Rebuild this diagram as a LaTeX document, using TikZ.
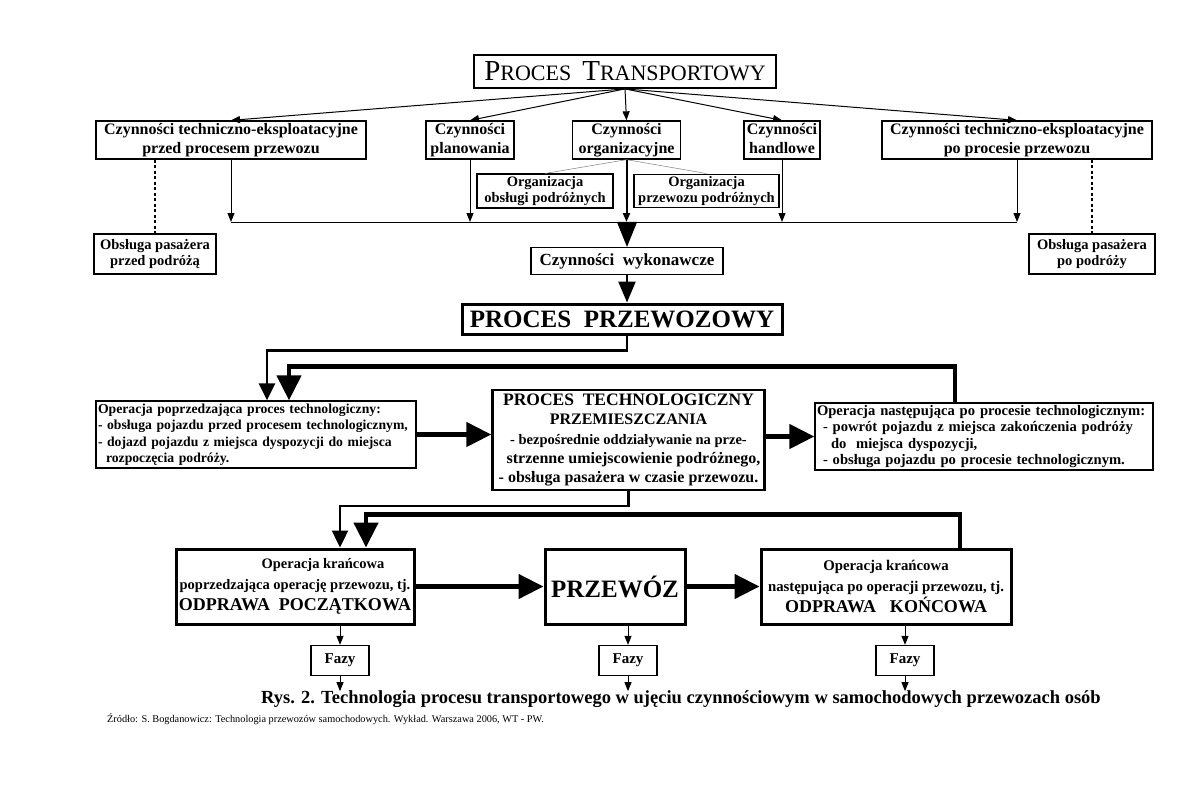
\documentclass[tikz,border=0pt]{standalone}
\usepackage{fontspec}
\setmainfont{Liberation Serif}
\usetikzlibrary{arrows.meta}
\newcommand{\setfs}[2]{\fontsize{#1}{#2}\selectfont}
\tikzset{
    rys diagram/.style = {x=1pt, y=-1pt, >={Triangle[length=9pt,width=7pt]}},
    line/.style        = {line width=1pt},
    midline/.style     = {line width=2.4pt},
    heavyline/.style   = {line width=4.6pt},
    midtip/.style      = {-{Triangle[length=17pt,width=16pt]}},
    bigtip/.style      = {-{Triangle[length=25pt,width=24pt]}},
    dotline/.style     = {line width=1.2pt, dash pattern=on 3pt off 2.5pt},
    subline/.style     = {line width=0.5pt, black!50},
    block/.style       = {draw, line width=1.3pt, fill=white, align=center,
                          inner sep=2pt, font=\setfs{16}{19}\bfseries},
    heavyblock/.style  = {block, line width=3pt},
    smallblock/.style  = {block, font=\setfs{14.5}{16.5}\bfseries},
    listblock/.style   = {block, align=left, inner xsep=2pt,
                          font=\setfs{13.7}{16.5}\bfseries},
    fazablock/.style   = {block, font=\setfs{15}{17}\bfseries,
                          minimum width=58pt, minimum height=30pt}
}

\begin{document}
\begin{tikzpicture}[rys diagram]
\useasboundingbox (0,0) rectangle (1194,790);

% proces transportowy i czynnosci
\node[block,line width=1.8pt,font=\setfs{22}{26},minimum width=302pt,minimum height=33pt] (transport) at (625,71.5)
    {{\setfs{29}{26}P}ROCES\ \ {\setfs{29}{26}T}RANSPORTOWY};
\node[block,minimum width=270pt,minimum height=38pt] (techA) at (231,140)
    {Czynności techniczno-eksploatacyjne\\przed procesem przewozu};
\node[block,minimum width=88pt,minimum height=38pt] (plan) at (470,140) {Czynności\\planowania};
\node[block,minimum width=108pt,minimum height=38pt] (org) at (626.5,140) {Czynności\\organizacyjne};
\node[block,minimum width=76pt,minimum height=38pt] (handel) at (782,140) {Czynności\\handlowe\vphantom{y}};
\node[block,minimum width=270pt,minimum height=38pt] (techB) at (1017,140)
    {Czynności techniczno-eksploatacyjne\\po procesie przewozu};
\foreach \target in {techA,plan,org,handel,techB}
    \draw[->,line] (transport.south) -- (\target.north);

\node[smallblock,minimum width=136pt,minimum height=33pt] (orgA) at (545,191) {Organizacja\\obsługi podróżnych};
\node[smallblock,minimum width=145pt,minimum height=33pt] (orgB) at (706.5,191) {Organizacja\\przewozu podróżnych};
\draw[subline] (org.south) -- (orgA.north);
\draw[subline] (org.south) -- (orgB.north);

\node[smallblock,minimum width=122pt,minimum height=40pt] (obsA) at (155,254) {Obsługa pasażera\\przed podróżą};
\node[smallblock,minimum width=126pt,minimum height=40pt] (obsB) at (1092,254) {Obsługa pasażera\\po podróży};
\draw[dotline] (techA.south -| obsA.north) -- (obsA.north);
\draw[dotline] (techB.south -| obsB.north) -- (obsB.north);

% zbiorcza linia
\coordinate (busL) at (231,222);
\coordinate (busR) at (1017,222);
\draw[line] (busL) -- (busR);
\foreach \src in {techA,plan,handel,techB}
    \draw[->,line] (\src.south) -- (\src.south |- busL);
\draw[->,line width=2pt] (org.south) -- (org.south |- busL);

\node[block,font=\setfs{17}{19}\bfseries,minimum width=192pt,minimum height=27pt] (wyk) at (627,261)
    {Czynności\ \ wykonawcze};
\draw[line,-{Triangle[length=25pt,width=20pt]}] (wyk.north |- busL) -- (wyk.north);

\node[heavyblock,font=\setfs{25}{27}\bfseries,minimum width=320pt,minimum height=30pt] (przew) at (622,319)
    {PROCES\ \ PRZEWOZOWY};
\draw[midline,-{Triangle[length=21pt,width=17pt]}] (wyk.south) -- (wyk.south |- przew.north);

% proces technologiczny
\node[listblock,text width=316pt,minimum height=67pt] (popA) at (256,434.5)
    {Operacja poprzedzająca proces technologiczny:\\
     - obsługa pojazdu przed procesem technologicznym,\\
     - dojazd pojazdu z miejsca dyspozycji do miejsca\\
     \hspace*{8pt}rozpoczęcia podróży.};
\node[block,line width=2.4pt,minimum width=272pt,minimum height=100pt] (tech) at (628.5,440)
    {\setfs{17.5}{19}PROCES\ \ TECHNOLOGICZNY\\PRZEMIESZCZANIA\\[1pt]
     \setfs{14.5}{18}- bezpośrednie oddziaływanie na prze-\\
     \hspace*{10pt}strzenne umiejscowienie podróżnego,\\
     - obsługa pasażera w czasie przewozu.};
\node[listblock,font=\setfs{14.6}{16.5}\bfseries,text width=334pt,minimum height=67pt] (nast) at (984,436.5)
    {Operacja następująca po procesie technologicznym:\\
     \hspace*{6pt}- powrót pojazdu z miejsca zakończenia podróży\\
     \hspace*{14pt}do\ \ miejsca dyspozycji,\\
     \hspace*{6pt}- obsługa pojazdu po procesie technologicznym.};

\draw[midline,midtip] (wyk.south |- przew.south) -- ++(0,15) -| ([xshift=11pt]popA.north);
\draw[heavyline,bigtip] ([xshift=-29pt]nast.north) -- ++(0,-36) -| ([xshift=33pt]popA.north);
\draw[heavyline,bigtip] (popA.east) -- (popA.east -| tech.west);
\draw[heavyline,bigtip] (nast.west -| tech.east) -- (nast.west);

% operacje krancowe
\node[heavyblock,font=\setfs{14.5}{21}\bfseries,minimum width=238pt,minimum height=75pt] (odpA) at (295,586.5)
    {\hspace*{56pt}Operacja krańcowa\\poprzedzająca operację przewozu, tj.\\{\setfs{18}{21}ODPRAWA\ \ POCZĄTKOWA}};
\node[heavyblock,font=\setfs{25}{27}\bfseries,minimum width=140pt,minimum height=75pt] (przewoz) at (615,586.5)
    {PRZEWÓZ};
\node[heavyblock,font=\setfs{14.8}{21}\bfseries,minimum width=250pt,minimum height=75pt] (odpB) at (886,586.5)
    {Operacja krańcowa\\następująca po operacji przewozu, tj.\\{\setfs{18}{21}ODPRAWA\hspace{14pt}KOŃCOWA}};

\draw[midline,midtip] (tech.south) -- ++(0,15) -| ([xshift=45pt]odpA.north);
\draw[heavyline,bigtip] ([xshift=74pt]odpB.north) -- ++(0,-33) -| ([xshift=71pt]odpA.north);
\draw[heavyline,bigtip] (odpA.east) -- (przewoz.west);
\draw[heavyline,bigtip] (przewoz.east) -- (odpB.west);

\node[fazablock] (fazyA) at (340,660.5) {Fazy};
\node[fazablock] (fazyB) at (628,660.5) {Fazy};
\node[fazablock] (fazyC) at (905,660.5) {Fazy};
\foreach \blk/\faza in {odpA/fazyA,przewoz/fazyB,odpB/fazyC} {
    \draw[->,line] (\faza.north |- \blk.south) -- (\faza.north);
    \draw[->,line] (\faza.south) -- ++(0,15);
}

\node[font=\setfs{18.5}{21}\bfseries] (caption) at (681,699)
    {Rys. 2. Technologia procesu transportowego w ujęciu czynnościowym w samochodowych przewozach osób};
\node[anchor=west,inner sep=0pt,font=\setfs{10.3}{12}] (source) at (107,719)
    {Źródło: S. Bogdanowicz: Technologia przewozów samochodowych. Wykład. Warszawa 2006, WT - PW.};
\end{tikzpicture}
\end{document}
